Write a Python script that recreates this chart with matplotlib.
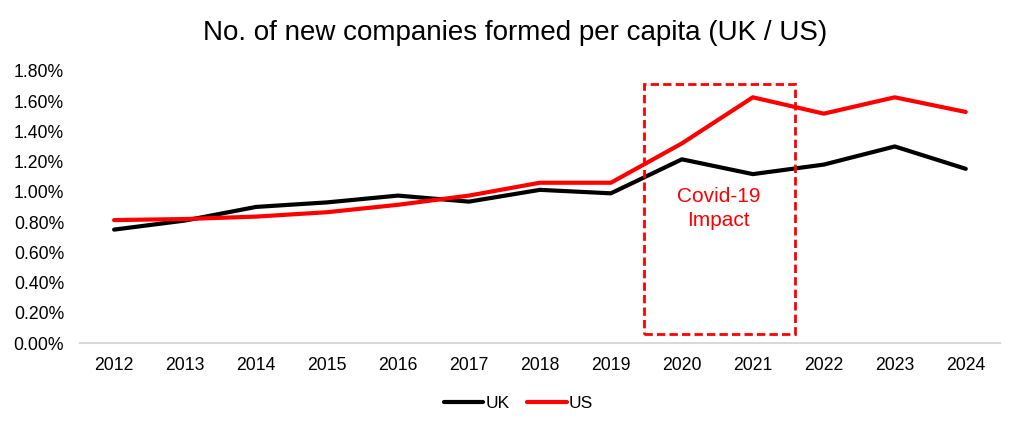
import matplotlib.pyplot as plt
from matplotlib.patches import Rectangle
from matplotlib.ticker import FuncFormatter

plt.rcParams['font.family'] = ['Liberation Sans', 'DejaVu Sans']

years = [2012, 2013, 2014, 2015, 2016, 2017, 2018, 2019, 2020, 2021, 2022, 2023, 2024]
uk = [0.75, 0.81, 0.90, 0.93, 0.975, 0.935, 1.013, 0.99, 1.215, 1.117, 1.18, 1.30, 1.152]
us = [0.813, 0.82, 0.836, 0.865, 0.914, 0.975, 1.06, 1.06, 1.32, 1.625, 1.517, 1.625, 1.528]

fig = plt.figure(figsize=(10.3, 4.32), dpi=100)
ax = fig.add_axes([0.0777, 0.206, 0.893, 0.630])

x = list(range(len(years)))
ax.plot(x, uk, color='black', lw=3, label='UK', solid_capstyle='round')
ax.plot(x, us, color='#ff0000', lw=3, label='US', solid_capstyle='round')

# covid box
ax.add_patch(Rectangle((7.46, 0.058), 2.14, 1.657, fill=False, edgecolor='#ff0000',
                       lw=2, linestyle=(0, (3, 1.5)), zorder=5))
ax.text(8.52, 0.89, 'Covid-19\nImpact', color='#ff0000', ha='center', va='center',
        fontsize=15, linespacing=1.3)

ax.set_xlim(-0.48, 12.48)
ax.set_ylim(0, 1.8)
ax.set_yticks([i * 0.2 for i in range(10)])
ax.yaxis.set_major_formatter(FuncFormatter(lambda v, p: f'{v:.2f}%'))
ax.set_xticks(x)
ax.set_xticklabels([str(y) for y in years])
ax.tick_params(length=0, labelsize=12.7)
ax.tick_params(axis='x', pad=10)
ax.tick_params(axis='y', pad=11.5)

for s in ['top', 'right', 'left']:
    ax.spines[s].set_visible(False)
ax.spines['bottom'].set_color('#d9d9d9')
ax.spines['bottom'].set_linewidth(1.5)

fig.text(0.5, 0.924, 'No. of new companies formed per capita (UK / US)', fontsize=20,
         ha='center', va='center')
fig.legend(loc='center', bbox_to_anchor=(0.503, 0.065), ncol=2, frameon=False,
           fontsize=12.5, handlelength=2.3, handletextpad=0.1, columnspacing=1.0)

fig.savefig('out.png', dpi=100)
